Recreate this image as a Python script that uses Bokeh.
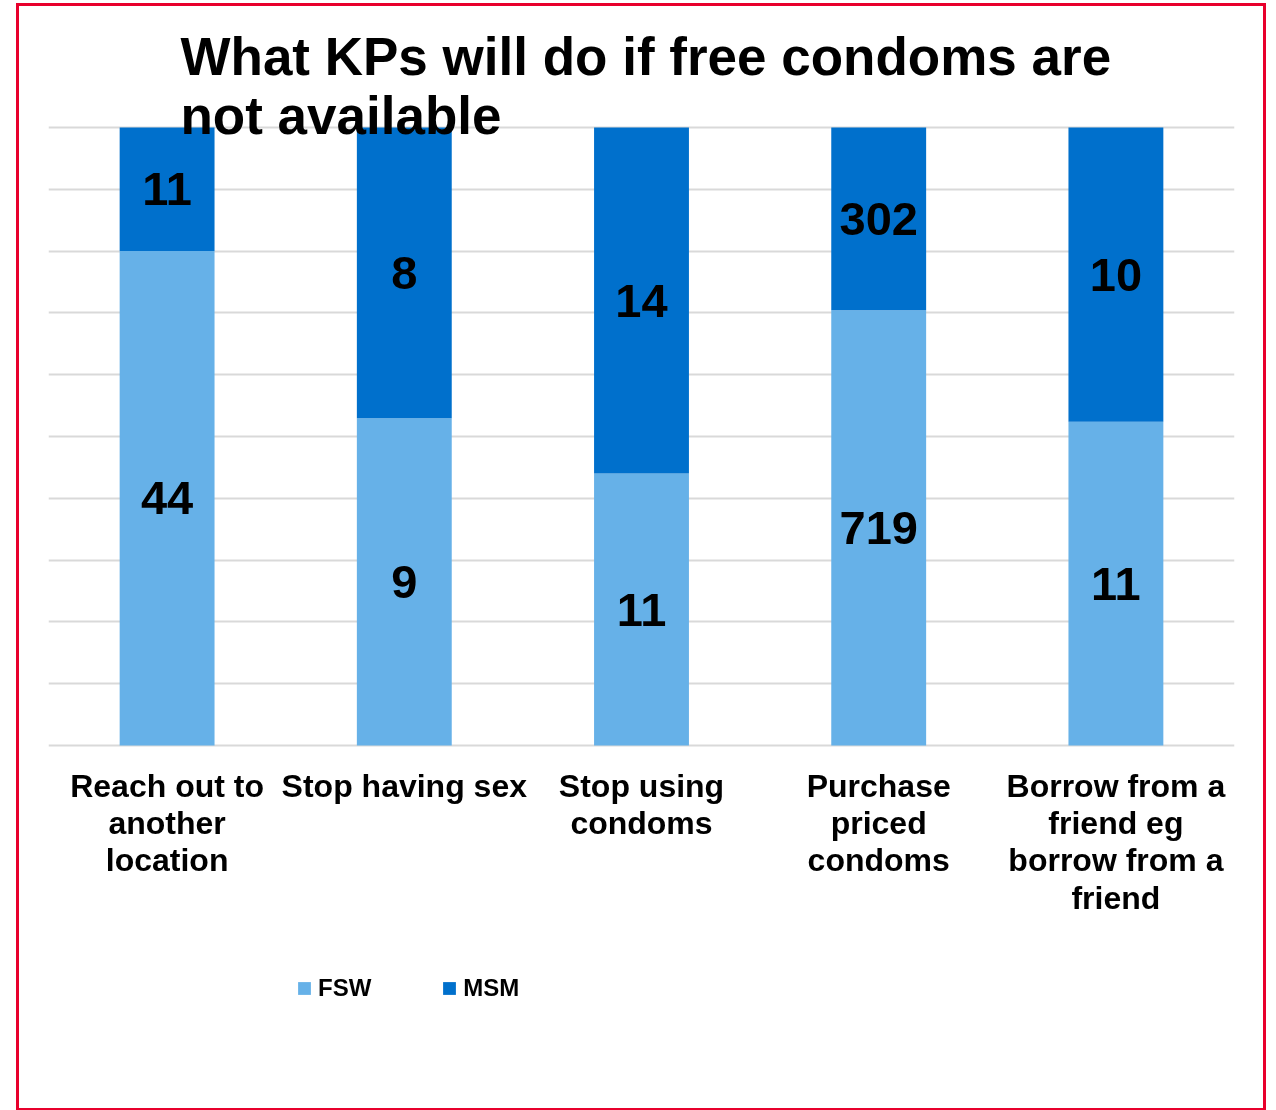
from bokeh.plotting import figure
from bokeh.models import FactorRange, Range1d, FixedTicker, Label, Legend, LegendItem, ColumnDataSource
from bokeh.core.properties import value
from bokeh.embed import file_html
from bokeh.resources import INLINE

categories = [
    "Reach out to\nanother\nlocation",
    "Stop having sex",
    "Stop using\ncondoms",
    "Purchase\npriced\ncondoms",
    "Borrow from a\nfriend eg\nborrow from a\nfriend",
]
fsw = [44, 9, 11, 719, 11]
msm = [11, 8, 14, 302, 10]
series_names = ["FSW", "MSM"]
title_lines = ["What KPs will do if free condoms are", "not available"]

FSW_COLOR = "#66B1E8"
MSM_COLOR = "#0070CC"
FONT = "Liberation Sans"

# layout constants (pixels per percentage unit and frame extents)
PX = 6.18
Y_END = 100 + (127 - 20) / PX
Y_START = -(1096 - 745) / PX
LABEL_Y = -(767 - 745) / PX

fsw_pct = [f / (f + m) * 100 for f, m in zip(fsw, msm)]

src = ColumnDataSource(dict(
    cat=categories,
    fsw_bottom=[0] * len(categories),
    fsw_top=fsw_pct,
    msm_bottom=fsw_pct,
    msm_top=[100] * len(categories),
    fsw_mid=[p / 2 for p in fsw_pct],
    msm_mid=[p + (100 - p) / 2 for p in fsw_pct],
    fsw_txt=[str(v) for v in fsw],
    msm_txt=[str(v) for v in msm],
    lab_y=[LABEL_Y] * len(categories),
))

p = figure(
    x_range=FactorRange(factors=categories, range_padding=0),
    y_range=Range1d(Y_START, Y_END),
    width=1244, height=1102,
    output_backend="svg", toolbar_location=None,
    min_border_left=29, min_border_right=35,
    min_border_top=14, min_border_bottom=18,
)
p.styles = {"border": "3px solid #E8002C", "box-sizing": "content-box",
            "position": "fixed", "left": "16px", "top": "3px"}
p.outline_line_color = None
p.background_fill_color = "white"
p.border_fill_color = "white"

r_fsw = p.vbar(x="cat", bottom="fsw_bottom", top="fsw_top", width=0.4, source=src,
               fill_color=FSW_COLOR, line_color=None)
r_msm = p.vbar(x="cat", bottom="msm_bottom", top="msm_top", width=0.4, source=src,
               fill_color=MSM_COLOR, line_color=None)

for ycol, tcol in (("fsw_mid", "fsw_txt"), ("msm_mid", "msm_txt")):
    p.text(x="cat", y=ycol, text=tcol, source=src, text_align="center",
           text_baseline="middle", text_font=value(FONT), text_font_style="bold",
           text_font_size="47px", text_color="black")

# category labels under the bars
p.text(x="cat", y="lab_y", text="cat", source=src, text_align="center",
       text_baseline="top", text_font=value(FONT), text_font_style="bold",
       text_font_size="32px", text_color="black", text_line_height=1.04)

p.xaxis.visible = False
p.yaxis.visible = False
p.xgrid.visible = False
p.ygrid.ticker = FixedTicker(ticks=list(range(0, 101, 10)))
p.ygrid.grid_line_color = "#D9D9D9"
p.ygrid.grid_line_width = 2
p.ygrid.level = "underlay"

for line, yy in zip(title_lines, [1096 - 56, 1096 - 115]):
    p.add_layout(Label(x=132, y=yy, x_units="screen", y_units="screen", text=line,
                       text_font=FONT, text_font_style="bold", text_font_size="53px",
                       text_color="black", text_baseline="alphabetic"))

legend = Legend(items=[LegendItem(label=series_names[0], renderers=[r_fsw]),
                       LegendItem(label=series_names[1], renderers=[r_msm])],
                orientation="horizontal", location=(248, 94),
                label_text_font=FONT, label_text_font_style="bold",
                label_text_font_size="24px", label_text_color="black",
                glyph_width=16, glyph_height=16, label_standoff=6, spacing=70,
                padding=0, margin=0, border_line_color=None,
                background_fill_alpha=0)
p.add_layout(legend, "center")

open("out.html", "w").write(file_html(p, INLINE))
